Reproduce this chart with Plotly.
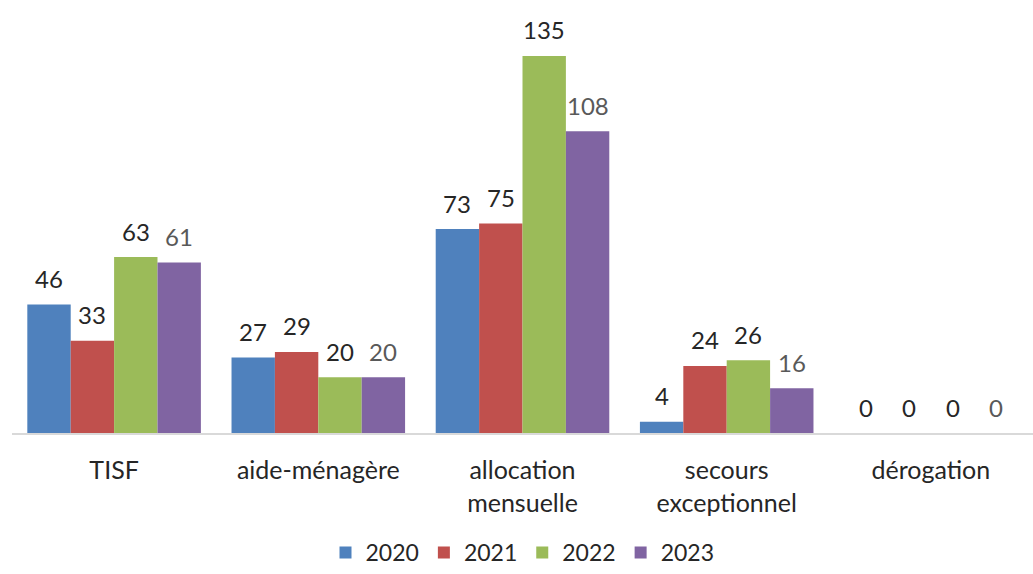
import plotly.graph_objects as go

# Aid categories and yearly counts
categories = ["TISF", "aide-ménagère", "allocation<br>mensuelle",
              "secours<br>exceptionnel", "dérogation"]
years = ["2020", "2021", "2022", "2023"]
values_2020 = [46, 27, 73, 4, 0]
values_2021 = [33, 29, 75, 24, 0]
values_2022 = [63, 20, 135, 26, 0]
values_2023 = [61, 20, 108, 16, 0]
series = [values_2020, values_2021, values_2022, values_2023]

colors = ["#4F81BD", "#C0504D", "#9BBB59", "#8064A2"]
label_colors = ["#262626", "#262626", "#262626", "#595959"]

W, H = 1033, 574
margin = dict(l=12, r=0, t=14, b=141, autoexpand=False)
bargap = 0.15
font_family = "Lato, 'Liberation Sans', sans-serif"

fig = go.Figure()
for name, vals, col in zip(years, series, colors):
    fig.add_trace(go.Bar(name=name, x=categories, y=vals,
                         marker=dict(color=col, line=dict(width=0))))

# Value labels above each bar, shifted to the bar's slot within its group
plot_w = W - margin["l"] - margin["r"]
cat_w = plot_w / len(categories)
bar_w = cat_w * (1 - bargap) / len(years)
annotations = []
for i, (vals, lc) in enumerate(zip(series, label_colors)):
    offset = (i - (len(years) - 1) / 2) * bar_w
    for cat, v in zip(categories, vals):
        annotations.append(dict(
            x=cat, y=v, xref="x", yref="y", text=str(v), showarrow=False,
            xshift=offset, yshift=26, yanchor="middle",
            font=dict(size=24, color=lc, family=font_family)))

# Legend sits flush with the bottom edge of the figure
plot_h = H - margin["t"] - margin["b"]
legend_y = -margin["b"] / plot_h

fig.update_layout(
    width=W, height=H, margin=margin,
    barmode="group", bargap=bargap, bargroupgap=0,
    plot_bgcolor="white", paper_bgcolor="white",
    font=dict(family=font_family, size=22, color="#262626"),
    annotations=annotations,
    showlegend=True,
    legend=dict(orientation="h", x=0.5, xanchor="center", y=legend_y,
                yanchor="bottom", font=dict(size=23, color="#262626"),
                itemwidth=30, traceorder="normal"),
    xaxis=dict(showline=True, linecolor="#D9D9D9", linewidth=2,
               ticks="", tickfont=dict(size=25, color="#262626"),
               ticklabelstandoff=14, automargin=False, showgrid=False),
    yaxis=dict(range=[0, 150], visible=False, showgrid=False,
               automargin=False),
)

fig.write_html("out.html")
